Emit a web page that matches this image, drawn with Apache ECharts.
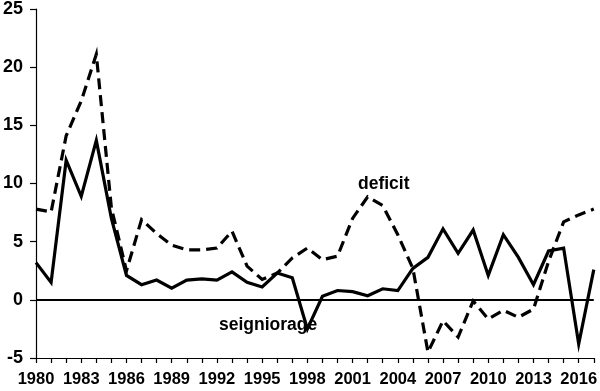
<!DOCTYPE html>
<html>
<head>
<meta charset="utf-8">
<script src="https://cdn.jsdelivr.net/npm/echarts@6/dist/echarts.min.js"></script>
<style>
html,body{margin:0;padding:0;background:#fff;}
#chart{width:600px;height:391px;}
</style>
</head>
<body>
<div id="chart"></div>
<script>
var years = [];
for (var y = 1980; y <= 2017; y++) years.push(String(y));

var seigniorage = [3.2, 1.5, 12.0, 8.9, 13.7, 7.0, 2.1, 1.3, 1.7, 1.0,
  1.7, 1.8, 1.7, 2.4, 1.5, 1.1, 2.3, 1.9, -2.5, 0.3,
  0.8, 0.7, 0.35, 0.95, 0.8, 2.7, 3.65, 6.1, 4.0, 6.0,
  2.1, 5.6, 3.65, 1.3, 4.2, 4.45, -3.8, 2.6];

var deficit = [7.8, 7.55, 14.1, 17.1, 21.1, 7.9, 2.5, 6.9, 5.7, 4.7,
  4.3, 4.3, 4.45, 5.9, 2.9, 1.75, 2.3, 3.6, 4.45, 3.45,
  3.75, 7.0, 8.85, 8.1, 5.6, 2.7, -4.5, -1.8, -3.2, -0.1,
  -1.65, -0.9, -1.5, -0.8, 3.3, 6.7, 7.3, 7.8];

var yTicks = { min: -5, max: 25, interval: 5 };

var font = { fontFamily: 'Liberation Sans', fontWeight: 'bold', color: '#000' };

var chart = echarts.init(document.getElementById('chart'), null, { renderer: 'canvas' });
chart.setOption({
  animation: false,
  backgroundColor: '#fff',
  grid: { left: 34, right: 5, top: 4, bottom: 33, containLabel: false },
  xAxis: {
    type: 'category',
    data: years,
    boundaryGap: false,
    axisLine: { onZero: false, lineStyle: { color: '#000', width: 1.2 } },
    axisTick: { show: true, interval: 0, length: 5, lineStyle: { color: '#000', width: 1.2 } },
    axisLabel: Object.assign({ interval: 2, fontSize: 16.5, margin: 13 }, font),
    splitLine: { show: false }
  },
  yAxis: {
    type: 'value',
    min: yTicks.min, max: yTicks.max, interval: yTicks.interval,
    axisLine: { show: true, lineStyle: { color: '#000', width: 1.2 } },
    axisTick: { show: true, length: 6, lineStyle: { color: '#000', width: 1.2 } },
    axisLabel: Object.assign({ fontSize: 18, margin: 13 }, font),
    splitLine: { show: false }
  },
  series: [
    {
      name: 'seigniorage',
      type: 'line',
      data: seigniorage,
      symbol: 'none',
      lineStyle: { color: '#000', width: 3.2, join: 'miter' },
      markLine: {
        silent: true,
        symbol: ['none', 'none'],
        label: { show: false },
        lineStyle: { color: '#000', width: 2, type: 'solid' },
        data: [{ yAxis: 0 }]
      },
      markPoint: {
        symbol: 'circle', symbolSize: 0,
        label: Object.assign({ show: true, position: 'inside', fontSize: 17.5, formatter: '{b}', offset: [6, 0] }, font),
        data: [{ name: 'seigniorage', coord: ['1995', -2.2] }]
      }
    },
    {
      name: 'deficit',
      type: 'line',
      data: deficit,
      symbol: 'none',
      lineStyle: { color: '#000', width: 3.2, type: [11, 6], join: 'miter' },
      markPoint: {
        symbol: 'circle', symbolSize: 0,
        label: Object.assign({ show: true, position: 'inside', fontSize: 17.5, formatter: '{b}', offset: [1, 0] }, font),
        data: [{ name: 'deficit', coord: ['2003', 9.9] }]
      }
    }
  ]
});
</script>
</body>
</html>
